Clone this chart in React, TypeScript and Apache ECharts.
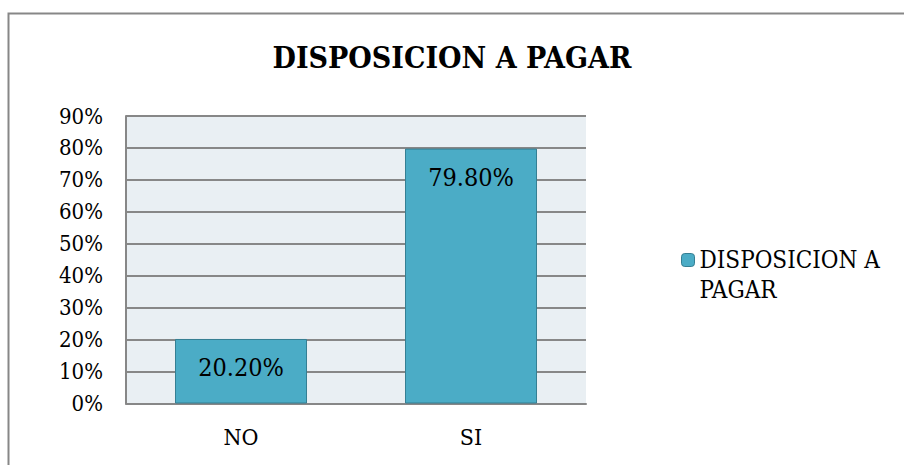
import React, { useEffect, useRef } from "react";
import * as echarts from "echarts";

const categories = ["NO", "SI"];
const values = [20.2, 79.8];
const seriesName = "DISPOSICION A PAGAR";
const titleText = "DISPOSICION A PAGAR";

export default function App() {
  const ref = useRef<HTMLDivElement>(null);
  useEffect(() => {
    if (!ref.current) return;
    const chart = echarts.init(ref.current, null, { renderer: "svg" });
    const font = "DejaVu Serif Condensed";
    chart.setOption({
      animation: false,
      backgroundColor: "#ffffff",
      textStyle: { fontFamily: font },
      title: {
        text: titleText,
        left: "center",
        top: 37,
        textStyle: { fontFamily: font, fontSize: 30, fontWeight: "bold", color: "#000" },
      },
      graphic: [
        {
          type: "rect",
          shape: { x: 8.5, y: 13.5, width: 1000, height: 1000 },
          style: { fill: "none", stroke: "#878787", lineWidth: 2 },
          z: 100,
          silent: true,
        },
      ],
      legend: {
        left: 676,
        top: 210,
        orient: "vertical",
        itemWidth: 13,
        itemHeight: 13,
        itemGap: 5,
        data: [{ name: seriesName, itemStyle: { color: "#4BACC6", borderColor: "#357F93", borderWidth: 1 } }],
        formatter: () => " \nDISPOSICION A\nPAGAR",
        textStyle: { fontFamily: font, fontSize: 24, color: "#000", lineHeight: 30 },
      },
      grid: {
        left: 126,
        top: 116,
        right: 318,
        bottom: 61.5,
        show: true,
        backgroundColor: "#E9EFF3",
        borderWidth: 0,
        containLabel: false,
      },
      xAxis: {
        type: "category",
        data: categories,
        axisLine: { show: true, lineStyle: { color: "#878787", width: 2 } },
        axisTick: { show: false },
        axisLabel: { fontFamily: font, fontSize: 23, color: "#000", margin: 22 },
      },
      yAxis: {
        type: "value",
        min: 0,
        max: 90,
        interval: 10,
        axisLine: { show: true, lineStyle: { color: "#878787", width: 2 } },
        axisTick: { show: false },
        splitLine: { show: true, lineStyle: { color: "#878787", width: 2 } },
        axisLabel: {
          fontFamily: font,
          fontSize: 22,
          color: "#000",
          margin: 23,
          formatter: (v: number) => `${v}%`,
        },
      },
      series: [
        {
          name: seriesName,
          type: "bar",
          data: values,
          barWidth: 132,
          itemStyle: { color: "#4BACC6", borderColor: "#357F93", borderWidth: 1 },
          label: {
            show: true,
            position: "insideTop",
            distance: 16,
            fontFamily: font,
            fontSize: 25,
            color: "#000",
            formatter: (p: any) => `${p.value.toFixed(2)}%`,
          },
        },
      ],
    });
    return () => chart.dispose();
  }, []);
  return (
    <div
      ref={ref}
      style={{ position: "fixed", left: 0, top: 0, width: 904, height: 465 }}
    />
  );
}
